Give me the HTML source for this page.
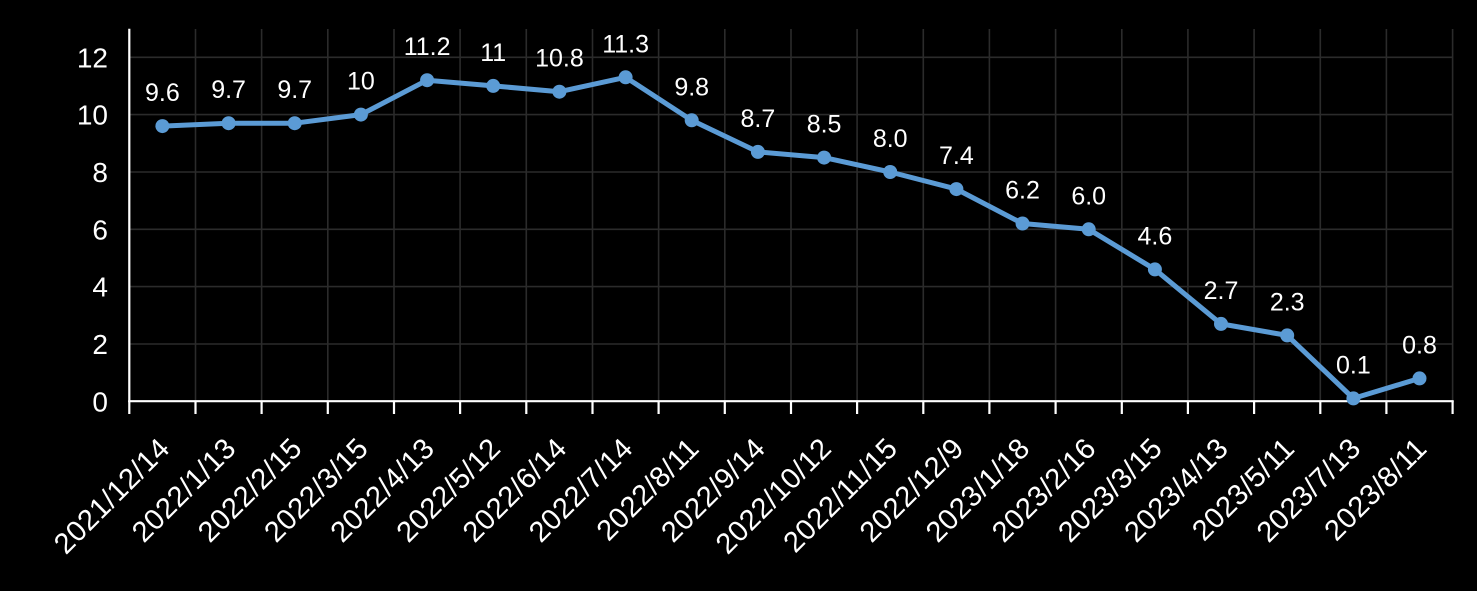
<!DOCTYPE html>
<html>
<head>
<meta charset="utf-8">
<style>
  html, body { margin:0; padding:0; background:#000; }
  svg { display:block; }
  text { font-family: "Liberation Sans", "DejaVu Sans", sans-serif; fill:#fff; }
</style>
</head>
<body>
<svg width="1477" height="591" viewBox="0 0 1477 591" xmlns="http://www.w3.org/2000/svg">
  <rect x="0" y="0" width="1477" height="591" fill="#000"/>
  <!-- horizontal gridlines -->
  <g stroke="#2b2b2b" stroke-width="1.6">
    <line x1="129.3" y1="344.0" x2="1452.6" y2="344.0"/>
    <line x1="129.3" y1="286.6" x2="1452.6" y2="286.6"/>
    <line x1="129.3" y1="229.3" x2="1452.6" y2="229.3"/>
    <line x1="129.3" y1="172.0" x2="1452.6" y2="172.0"/>
    <line x1="129.3" y1="114.6" x2="1452.6" y2="114.6"/>
    <line x1="129.3" y1="57.3" x2="1452.6" y2="57.3"/>
  </g>
  <!-- vertical gridlines -->
  <g stroke="#2b2b2b" stroke-width="1.6">
    <line x1="195.5" y1="29" x2="195.5" y2="401"/>
    <line x1="261.6" y1="29" x2="261.6" y2="401"/>
    <line x1="327.8" y1="29" x2="327.8" y2="401"/>
    <line x1="394.0" y1="29" x2="394.0" y2="401"/>
    <line x1="460.1" y1="29" x2="460.1" y2="401"/>
    <line x1="526.3" y1="29" x2="526.3" y2="401"/>
    <line x1="592.5" y1="29" x2="592.5" y2="401"/>
    <line x1="658.6" y1="29" x2="658.6" y2="401"/>
    <line x1="724.8" y1="29" x2="724.8" y2="401"/>
    <line x1="791.0" y1="29" x2="791.0" y2="401"/>
    <line x1="857.1" y1="29" x2="857.1" y2="401"/>
    <line x1="923.3" y1="29" x2="923.3" y2="401"/>
    <line x1="989.4" y1="29" x2="989.4" y2="401"/>
    <line x1="1055.6" y1="29" x2="1055.6" y2="401"/>
    <line x1="1121.8" y1="29" x2="1121.8" y2="401"/>
    <line x1="1187.9" y1="29" x2="1187.9" y2="401"/>
    <line x1="1254.1" y1="29" x2="1254.1" y2="401"/>
    <line x1="1320.3" y1="29" x2="1320.3" y2="401"/>
    <line x1="1386.4" y1="29" x2="1386.4" y2="401"/>
    <line x1="1452.6" y1="29" x2="1452.6" y2="401"/>
  </g>
  <!-- axes -->
  <g stroke="#fff" stroke-width="2.2">
    <line x1="129.3" y1="28.7" x2="129.3" y2="402"/>
    <line x1="128.2" y1="401.2" x2="1453.7" y2="401.2"/>
    <line x1="129.3" y1="401" x2="129.3" y2="414"/>
    <line x1="195.5" y1="401" x2="195.5" y2="414"/>
    <line x1="261.6" y1="401" x2="261.6" y2="414"/>
    <line x1="327.8" y1="401" x2="327.8" y2="414"/>
    <line x1="394.0" y1="401" x2="394.0" y2="414"/>
    <line x1="460.1" y1="401" x2="460.1" y2="414"/>
    <line x1="526.3" y1="401" x2="526.3" y2="414"/>
    <line x1="592.5" y1="401" x2="592.5" y2="414"/>
    <line x1="658.6" y1="401" x2="658.6" y2="414"/>
    <line x1="724.8" y1="401" x2="724.8" y2="414"/>
    <line x1="791.0" y1="401" x2="791.0" y2="414"/>
    <line x1="857.1" y1="401" x2="857.1" y2="414"/>
    <line x1="923.3" y1="401" x2="923.3" y2="414"/>
    <line x1="989.4" y1="401" x2="989.4" y2="414"/>
    <line x1="1055.6" y1="401" x2="1055.6" y2="414"/>
    <line x1="1121.8" y1="401" x2="1121.8" y2="414"/>
    <line x1="1187.9" y1="401" x2="1187.9" y2="414"/>
    <line x1="1254.1" y1="401" x2="1254.1" y2="414"/>
    <line x1="1320.3" y1="401" x2="1320.3" y2="414"/>
    <line x1="1386.4" y1="401" x2="1386.4" y2="414"/>
    <line x1="1452.6" y1="401" x2="1452.6" y2="414"/>
  </g>
  <!-- y labels -->
  <g font-size="28" text-anchor="end">
    <text x="108" y="411.3">0</text>
    <text x="108" y="354.0">2</text>
    <text x="108" y="296.6">4</text>
    <text x="108" y="239.3">6</text>
    <text x="108" y="182.0">8</text>
    <text x="108" y="124.6">10</text>
    <text x="108" y="67.3">12</text>
  </g>
  <!-- series line -->
  <polyline fill="none" stroke="#5B9BD5" stroke-width="5" stroke-linejoin="round" stroke-linecap="round"
    points="162.4,126.1 228.6,123.2 294.7,123.2 360.9,114.6 427.1,80.2 493.2,85.9 559.4,91.7 625.6,77.3 691.7,120.3 757.9,151.9 824.1,157.6 890.2,172.0 956.4,189.1 1022.5,223.5 1088.7,229.3 1154.9,269.4 1221.0,323.9 1287.2,335.4 1353.4,398.4 1419.5,378.4"/>
  <g fill="#5B9BD5">
    <circle cx="162.4" cy="126.1" r="7"/>
    <circle cx="228.6" cy="123.2" r="7"/>
    <circle cx="294.7" cy="123.2" r="7"/>
    <circle cx="360.9" cy="114.6" r="7"/>
    <circle cx="427.1" cy="80.2" r="7"/>
    <circle cx="493.2" cy="85.9" r="7"/>
    <circle cx="559.4" cy="91.7" r="7"/>
    <circle cx="625.6" cy="77.3" r="7"/>
    <circle cx="691.7" cy="120.3" r="7"/>
    <circle cx="757.9" cy="151.9" r="7"/>
    <circle cx="824.1" cy="157.6" r="7"/>
    <circle cx="890.2" cy="172.0" r="7"/>
    <circle cx="956.4" cy="189.1" r="7"/>
    <circle cx="1022.5" cy="223.5" r="7"/>
    <circle cx="1088.7" cy="229.3" r="7"/>
    <circle cx="1154.9" cy="269.4" r="7"/>
    <circle cx="1221.0" cy="323.9" r="7"/>
    <circle cx="1287.2" cy="335.4" r="7"/>
    <circle cx="1353.4" cy="398.4" r="7"/>
    <circle cx="1419.5" cy="378.4" r="7"/>
  </g>
  <!-- data labels -->
  <g font-size="25" text-anchor="middle">
    <text x="162.4" y="101.1">9.6</text>
    <text x="228.6" y="98.2">9.7</text>
    <text x="294.7" y="98.2">9.7</text>
    <text x="360.9" y="89.6">10</text>
    <text x="427.1" y="55.2">11.2</text>
    <text x="493.2" y="60.9">11</text>
    <text x="559.4" y="66.7">10.8</text>
    <text x="625.6" y="52.3">11.3</text>
    <text x="691.7" y="95.3">9.8</text>
    <text x="757.9" y="126.9">8.7</text>
    <text x="824.1" y="132.6">8.5</text>
    <text x="890.2" y="147.0">8.0</text>
    <text x="956.4" y="164.1">7.4</text>
    <text x="1022.5" y="198.5">6.2</text>
    <text x="1088.7" y="204.3">6.0</text>
    <text x="1154.9" y="244.4">4.6</text>
    <text x="1221.0" y="298.9">2.7</text>
    <text x="1287.2" y="310.4">2.3</text>
    <text x="1353.4" y="373.4">0.1</text>
    <text x="1419.5" y="353.4">0.8</text>
  </g>
  <!-- x labels -->
  <g font-size="29" text-anchor="end" letter-spacing="0.4">
    <text transform="translate(171.4,450) rotate(-45)">2021/12/14</text>
    <text transform="translate(237.6,450) rotate(-45)">2022/1/13</text>
    <text transform="translate(303.7,450) rotate(-45)">2022/2/15</text>
    <text transform="translate(369.9,450) rotate(-45)">2022/3/15</text>
    <text transform="translate(436.1,450) rotate(-45)">2022/4/13</text>
    <text transform="translate(502.2,450) rotate(-45)">2022/5/12</text>
    <text transform="translate(568.4,450) rotate(-45)">2022/6/14</text>
    <text transform="translate(634.6,450) rotate(-45)">2022/7/14</text>
    <text transform="translate(700.7,450) rotate(-45)">2022/8/11</text>
    <text transform="translate(766.9,450) rotate(-45)">2022/9/14</text>
    <text transform="translate(833.1,450) rotate(-45)">2022/10/12</text>
    <text transform="translate(899.2,450) rotate(-45)">2022/11/15</text>
    <text transform="translate(965.4,450) rotate(-45)">2022/12/9</text>
    <text transform="translate(1031.5,450) rotate(-45)">2023/1/18</text>
    <text transform="translate(1097.7,450) rotate(-45)">2023/2/16</text>
    <text transform="translate(1163.9,450) rotate(-45)">2023/3/15</text>
    <text transform="translate(1230.0,450) rotate(-45)">2023/4/13</text>
    <text transform="translate(1296.2,450) rotate(-45)">2023/5/11</text>
    <text transform="translate(1362.4,450) rotate(-45)">2023/7/13</text>
    <text transform="translate(1428.5,450) rotate(-45)">2023/8/11</text>
  </g>
</svg>
</body>
</html>
